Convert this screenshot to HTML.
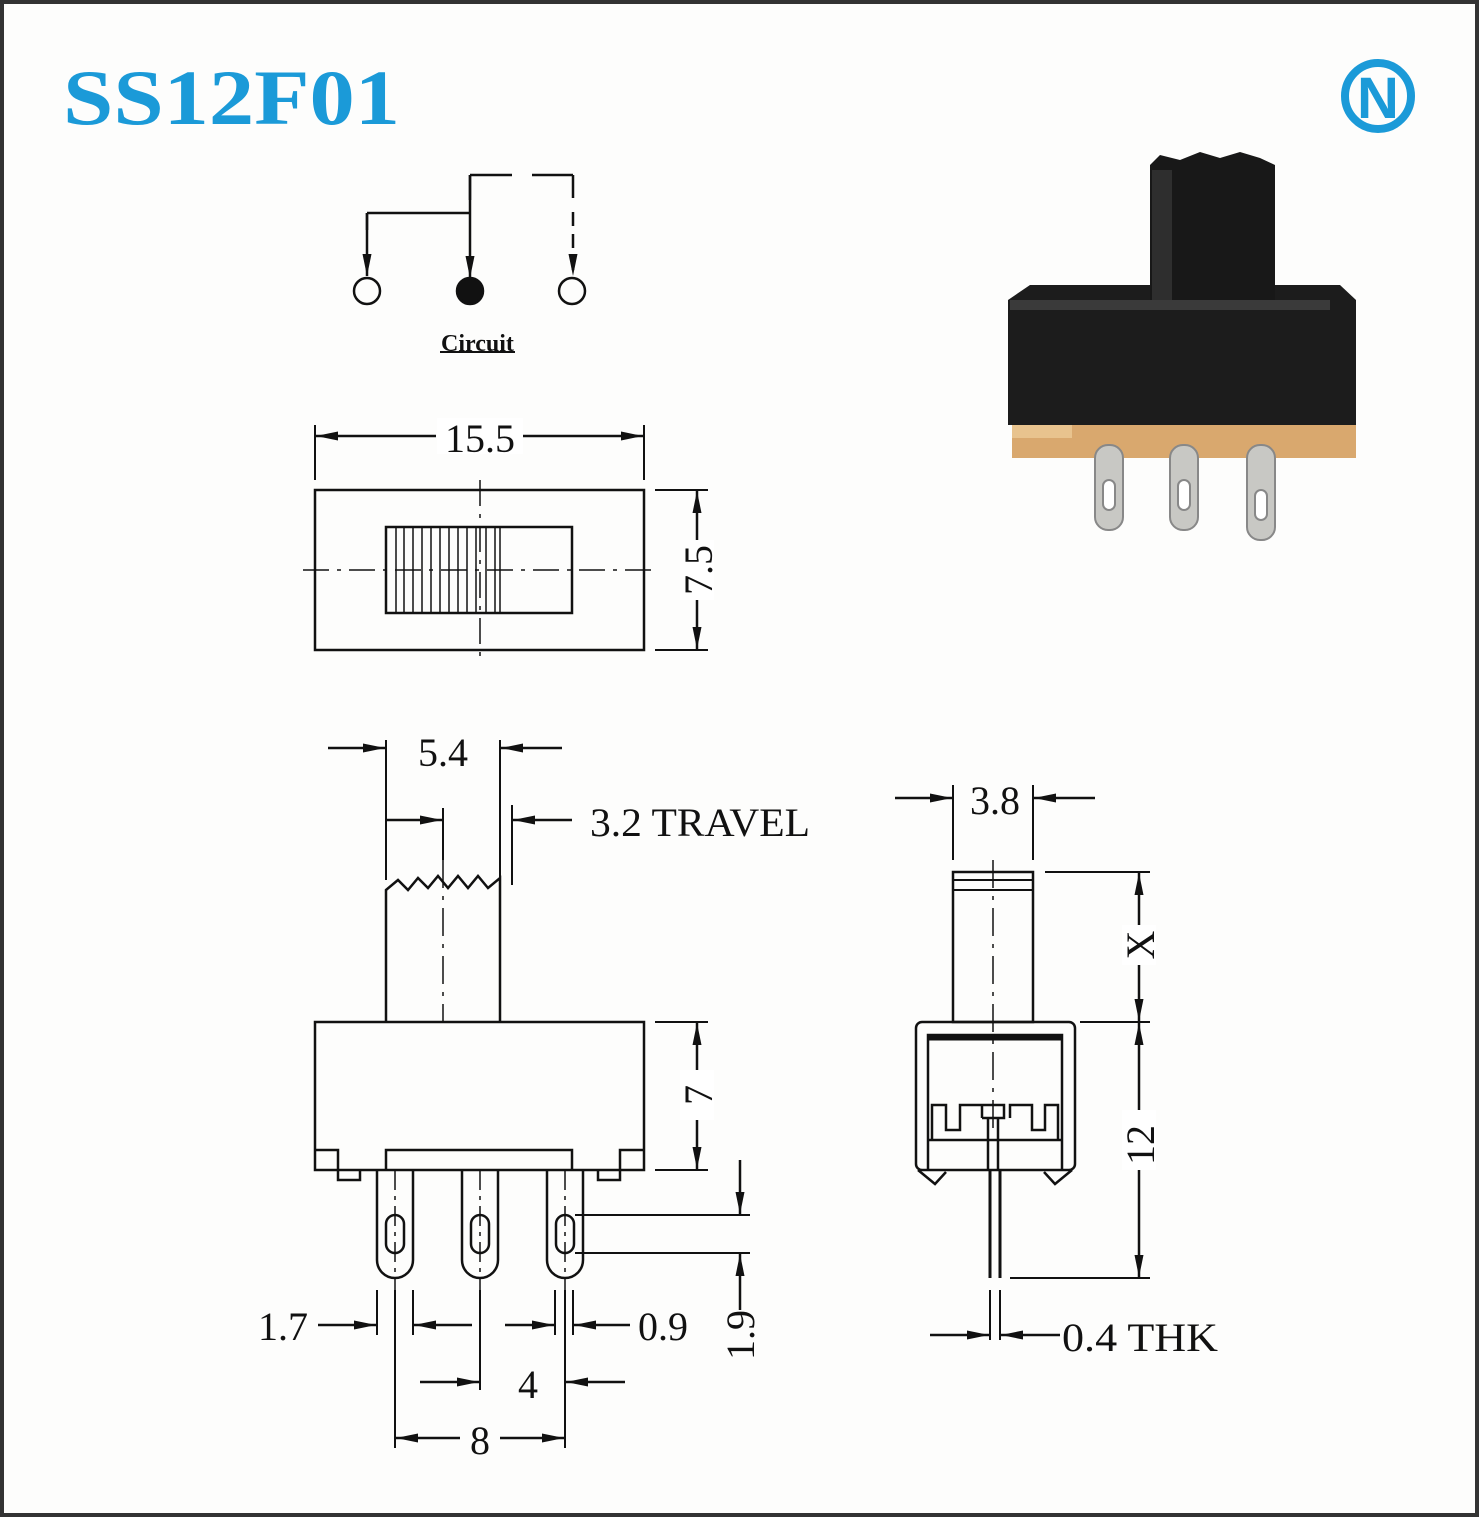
<!DOCTYPE html>
<html><head><meta charset="utf-8"><style>
html,body{margin:0;padding:0;background:#fff}
svg{display:block}
text{font-family:"Liberation Serif",serif;fill:#111}
</style></head><body>
<svg width="1479" height="1517" viewBox="0 0 1479 1517" xmlns="http://www.w3.org/2000/svg">
<defs>
<marker id="a" viewBox="0 0 10 10" refX="10" refY="5" markerWidth="22" markerHeight="9" markerUnits="userSpaceOnUse" orient="auto" preserveAspectRatio="none"><path d="M0,0 L10,5 L0,10 Z" fill="#111"/></marker>
</defs>
<rect x="0" y="0" width="1479" height="1517" fill="#fdfdfc"/>
<rect x="2" y="2" width="1475" height="1513" fill="none" stroke="#333" stroke-width="4"/>
<text x="63" y="124" font-size="78" font-weight="bold" textLength="337" lengthAdjust="spacingAndGlyphs" style="fill:#1b9ad8">SS12F01</text>
<circle cx="1378" cy="96" r="33" fill="none" stroke="#1b9ad8" stroke-width="8"/>
<text x="1378" y="118" font-size="58" font-weight="bold" text-anchor="middle" style="fill:#1b9ad8;font-family:'Liberation Sans',sans-serif">N</text>

<g stroke="#111" stroke-width="2.5" fill="none">
<path d="M367,213 H470 M470,175 V200 M367,213 V230"/>
<line x1="470" y1="175" x2="470" y2="278" marker-end="url(#a)"/>
<line x1="367" y1="213" x2="367" y2="276" marker-end="url(#a)"/>
<path d="M470,175 H512 M532,175 H573 M573,175 V198"/>
<line x1="573" y1="212" x2="573" y2="276" stroke-dasharray="14,8" marker-end="url(#a)"/>
<circle cx="367" cy="291" r="13"/>
<circle cx="470" cy="291" r="13" fill="#111"/>
<circle cx="572" cy="291" r="13"/>
<line x1="440" y1="352" x2="515" y2="352" stroke-width="2"/>

<rect x="315" y="490" width="329" height="160"/>
<rect x="386" y="527" width="186" height="86"/>
<path d="M396,527V613M404,527V613M413,527V613M422,527V613M431,527V613M440,527V613M449,527V613M458,527V613M467,527V613M476,527V613M486,527V613M495,527V613M500,527V613" stroke-width="1.5"/>
<line x1="303" y1="570" x2="656" y2="570" stroke-dasharray="26,8,4,8" stroke-width="1.5"/>
<line x1="480" y1="480" x2="480" y2="660" stroke-dasharray="26,8,4,8" stroke-width="1.5"/>
<path d="M315,425V480 M644,425V480" stroke-width="2"/>
<line x1="436" y1="436" x2="316" y2="436" marker-end="url(#a)"/>
<line x1="522" y1="436" x2="643" y2="436" marker-end="url(#a)"/>
<path d="M655,490H708 M655,650H708" stroke-width="2"/>
<line x1="697" y1="540" x2="697" y2="491" marker-end="url(#a)"/>
<line x1="697" y1="600" x2="697" y2="649" marker-end="url(#a)"/>

<path d="M386,1022V890 L398,880 408,890 418,878 428,888 438,876 448,888 458,876 468,888 478,876 488,888 500,878 V1022"/>
<line x1="443" y1="860" x2="443" y2="1022" stroke-dasharray="28,8,4,8" stroke-width="1.5"/>
<rect x="315" y="1022" width="329" height="148"/>
<path d="M315,1150H338V1170 M644,1150H620V1170 M386,1170V1150H572V1170 M338,1170V1180H360V1170 M620,1170V1180H598V1170"/>
<g id="pin">
<path d="M377,1170V1260 A18,18 0 0 0 413,1260 V1170"/>
<rect x="386" y="1215" width="18" height="38" rx="9"/>
<line x1="395" y1="1170" x2="395" y2="1290" stroke-dasharray="20,6,4,6" stroke-width="1.5"/>
</g>
<use href="#pin" x="85"/>
<use href="#pin" x="170"/>
<path d="M386,740V880 M500,740V1022 M443,808V860 M512,805V885" stroke-width="2"/>
<line x1="328" y1="748" x2="385" y2="748" marker-end="url(#a)"/>
<line x1="562" y1="748" x2="501" y2="748" marker-end="url(#a)"/>
<line x1="386" y1="820" x2="442" y2="820" marker-end="url(#a)"/>
<line x1="572" y1="820" x2="513" y2="820" marker-end="url(#a)"/>
<path d="M655,1022H708 M655,1170H708" stroke-width="2"/>
<line x1="697" y1="1070" x2="697" y2="1023" marker-end="url(#a)"/>
<line x1="697" y1="1120" x2="697" y2="1169" marker-end="url(#a)"/>
<path d="M377,1290V1335 M413,1290V1335 M395,1290V1448 M565,1290V1448 M555,1290V1335 M573,1290V1335 M480,1290V1390" stroke-width="2"/>
<line x1="318" y1="1325" x2="376" y2="1325" marker-end="url(#a)"/>
<line x1="472" y1="1325" x2="414" y2="1325" marker-end="url(#a)"/>
<line x1="505" y1="1325" x2="554" y2="1325" marker-end="url(#a)"/>
<line x1="630" y1="1325" x2="574" y2="1325" marker-end="url(#a)"/>
<line x1="420" y1="1382" x2="479" y2="1382" marker-end="url(#a)"/>
<line x1="625" y1="1382" x2="566" y2="1382" marker-end="url(#a)"/>
<line x1="460" y1="1438" x2="396" y2="1438" marker-end="url(#a)"/>
<line x1="500" y1="1438" x2="564" y2="1438" marker-end="url(#a)"/>
<path d="M575,1215H750 M575,1253H750" stroke-width="2"/>
<line x1="740" y1="1160" x2="740" y2="1214" marker-end="url(#a)"/>
<line x1="740" y1="1310" x2="740" y2="1254" marker-end="url(#a)"/>

<rect x="953" y="872" width="80" height="150"/>
<path d="M953,880H1033 M953,890H1033" stroke-width="2"/>
<line x1="993" y1="860" x2="993" y2="1130" stroke-dasharray="28,8,4,8" stroke-width="1.5"/>
<path d="M953,785V860 M1033,785V860" stroke-width="2"/>
<line x1="895" y1="798" x2="952" y2="798" marker-end="url(#a)"/>
<line x1="1095" y1="798" x2="1034" y2="798" marker-end="url(#a)"/>
<rect x="916" y="1022" width="159" height="148" rx="6"/>
<path d="M928,1170V1035H1062V1170 M928,1140H1062 M932,1140V1105H946V1130H960V1105H982V1118 M1010,1118V1105H1032V1130H1045V1105H1058V1140 M982,1118V1105H1004V1118H982 M988,1118V1170 M998,1118V1170"/>
<path d="M928,1038H1062" stroke-width="5"/>
<path d="M918,1170L935,1184 946,1172 M1072,1170L1055,1184 1044,1172"/>
<path d="M990,1170V1278 M1000,1170V1278" stroke-width="3"/>
<path d="M990,1290V1340 M1000,1290V1340" stroke-width="2"/>
<line x1="930" y1="1335" x2="989" y2="1335" marker-end="url(#a)"/>
<line x1="1060" y1="1335" x2="1001" y2="1335" marker-end="url(#a)"/>
<path d="M1045,872H1150 M1080,1022H1150 M1010,1278H1150" stroke-width="2"/>
<line x1="1139" y1="925" x2="1139" y2="873" marker-end="url(#a)"/>
<line x1="1139" y1="965" x2="1139" y2="1021" marker-end="url(#a)"/>
<line x1="1139" y1="1110" x2="1139" y2="1023" marker-end="url(#a)"/>
<line x1="1139" y1="1170" x2="1139" y2="1277" marker-end="url(#a)"/>
</g>

<g fill="#fff" stroke="none">
<rect x="437" y="418" width="86" height="36"/>
<rect x="680" y="540" width="34" height="60"/>
<rect x="680" y="1070" width="34" height="50"/>
<rect x="1122" y="925" width="34" height="40"/>
<rect x="1122" y="1110" width="34" height="60"/>
</g>
<text x="441" y="351" font-size="24" font-weight="bold">Circuit</text>
<text x="480" y="452" font-size="40" text-anchor="middle">15.5</text>
<text x="0" y="0" font-size="40" text-anchor="middle" transform="translate(712,570) rotate(-90)">7.5</text>
<text x="443" y="766" font-size="40" text-anchor="middle">5.4</text>
<text x="590" y="836" font-size="40" textLength="220" lengthAdjust="spacingAndGlyphs">3.2 TRAVEL</text>
<text x="0" y="0" font-size="40" text-anchor="middle" transform="translate(712,1095) rotate(-90)">7</text>
<text x="258" y="1340" font-size="40">1.7</text>
<text x="638" y="1340" font-size="40">0.9</text>
<text x="528" y="1398" font-size="40" text-anchor="middle">4</text>
<text x="480" y="1454" font-size="40" text-anchor="middle">8</text>
<text x="0" y="0" font-size="40" text-anchor="middle" transform="translate(754,1335) rotate(-90)">1.9</text>
<text x="995" y="814" font-size="40" text-anchor="middle">3.8</text>
<text x="0" y="0" font-size="40" text-anchor="middle" transform="translate(1154,945) rotate(-90)">X</text>
<text x="0" y="0" font-size="40" text-anchor="middle" transform="translate(1154,1145) rotate(-90)">12</text>
<text x="1062" y="1351" font-size="40" textLength="156" lengthAdjust="spacingAndGlyphs">0.4 THK</text>

<g>
<rect x="1012" y="418" width="344" height="40" fill="#d9a86e"/>
<rect x="1012" y="420" width="60" height="18" fill="#e8c38e"/>
<path d="M1008,300 L1030,285 H1340 L1356,300 V425 H1008 Z" fill="#1c1c1c"/>
<rect x="1010" y="300" width="320" height="10" fill="#3a3a3a"/>
<path d="M1150,165 L1160,155 L1180,160 L1200,152 L1220,158 L1240,152 L1260,158 L1275,165 V300 H1150 Z" fill="#181818"/>
<rect x="1152" y="170" width="20" height="130" fill="#2e2e2e"/>
<g fill="#c8c8c4" stroke="#888" stroke-width="2">
<rect x="1095" y="445" width="28" height="85" rx="13"/>
<rect x="1170" y="445" width="28" height="85" rx="13"/>
<rect x="1247" y="445" width="28" height="95" rx="13"/>
</g>
<g fill="#fff" stroke="#888" stroke-width="2">
<rect x="1103" y="480" width="12" height="30" rx="6"/>
<rect x="1178" y="480" width="12" height="30" rx="6"/>
<rect x="1255" y="490" width="12" height="30" rx="6"/>
</g>
</g>
</svg>
</body></html>
